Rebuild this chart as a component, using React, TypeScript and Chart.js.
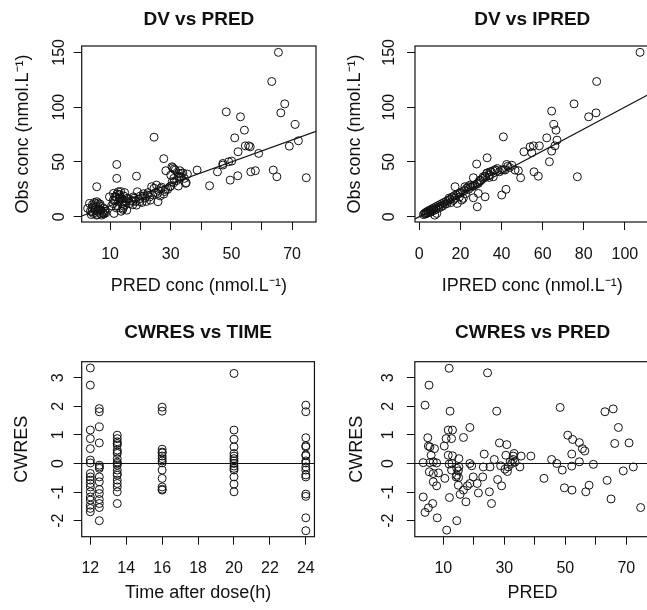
import React, { useEffect, useRef } from 'react';
import { Chart, registerables } from 'chart.js';

Chart.register(...registerables);

const FONT = '"Liberation Sans", Arial, Helvetica, sans-serif';
const INK = '#111111';

// ---------- Panel 1: DV vs PRED ----------
const dvPredPRED = [
  65.5, 63.3, 67.6, 66.3, 71, 48.3, 53, 54.3, 51.1, 24.5, 72.1, 69.1, 54.6, 55.7, 56.2, 52.2, 59, 50.1, 47.2, 45.4,
  56.4, 57.9, 63.8, 65, 74.7, 52.1, 49.6, 42.8, 38.7, 27.7, 28.4, 30.7, 31.5, 33, 33.5, 35.5, 35.1, 32.7, 31, 29.7,
  28.3, 27.7, 26.7, 25.7, 25.8, 25.3, 23.7, 22.3, 23.3, 20.9, 19.8, 19, 18.7, 17.7, 18.7, 17.4, 16, 14.4, 14.2, 14.6,
  12.2, 12.2, 11.1, 11.6, 12.7, 13.3, 13.3, 12.95, 10.5, 11.1, 11.3, 9.8, 5.6, 3.2, 4.5, 5.6, 6.7, 7.8, 4, 5.6,
  2.6, 8.4, 6.7, 47.2, 49.1, 30.4, 31.1, 32.6, 33.3, 34.9,
  3.5, 4, 4.2, 4.5, 5, 5.2, 5.5, 5.8, 6, 6.3, 6.5, 6.8, 7, 7.2, 7.5, 7.8, 8, 8.3, 3.8, 4.8, 6.1, 8.6,
  11, 11.5, 12, 12.3, 12.5, 12.8, 13, 13.2, 13.5, 13.8, 14, 14.2, 14.5, 14.8, 15, 15.3, 15.5, 15.8, 13.6, 12.1,
  16.5, 17, 17.5, 18, 18.5, 19.5, 20, 20.5, 21, 21.5, 22, 22.5, 23, 24, 24.5, 25, 26, 26.5, 27, 28, 29, 30, 30.5,
  31, 32, 33, 34, 34.5, 30, 32.5,
];
const dvPredDV = [
  150, 123.4, 103, 94.8, 84.2, 95.7, 91.2, 79, 72, 72.6, 69.3, 64.4, 64.7, 64.7, 63.8, 59.3, 57.8, 50.8, 48.6, 41,
  41, 42, 42.6, 36.5, 35.6, 37.4, 33.4, 28.3, 42.6, 53, 42, 44.7, 42.6, 42, 39.5, 38.9, 31, 37, 31, 27.4,
  24.9, 20.7, 25.8, 21.3, 13.7, 28.9, 27.4, 19.8, 15.2, 18.8, 13.7, 22.8, 37, 18.2, 10.6, 14, 15.8, 13.7, 6.7, 9.7,
  47.7, 35, 21.3, 18.2, 22.8, 18.2, 15.2, 20.4, 10, 15.2, 3, 18.2, 27.4, 12.2, 9.1, 13.7, 6.1, 3, 4.6, 1.5,
  7.6, 6.7, 11.6, 47.2, 50.2, 45.6, 43.5, 39.6, 36.5, 30.5,
  5, 8, 11, 3, 6, 12, 9, 2, 5, 7, 10, 3, 6, 1.5, 4, 8, 2.5, 5, 2, 13, 12.5, 3.5,
  12, 15, 18, 21, 10, 14, 17, 20, 23, 12, 16, 8, 19, 22, 11, 14, 6, 17, 5, 8,
  12, 15, 11, 17, 14, 16, 19, 13, 21, 17, 14, 22, 18, 20, 26, 22, 24, 19, 27, 23, 25, 28, 32,
  35, 33, 36, 40, 35, 38, 28,
];

// ---------- Panel 2: DV vs IPRED ----------
const dvIpredIPRED = [
  107.4, 86.3, 75.3, 86, 82.4, 64.4, 65.4, 66.5, 62, 67, 66, 64.4, 58.4, 53.9, 55.5, 54.7, 50.9, 63.3, 76.9, 55.8,
  57.9, 49.3, 46.6, 48.2, 40.9, 33, 42.5, 40.1, 41.7, 42.2, 40.1, 32, 28.2, 28.7, 27.9, 26.3, 26.3, 36.8, 34.4, 32.8,
  31.1, 29.5, 28.7, 36, 34, 22.2, 24.7, 17.4, 19.8, 20.6, 26.3, 18.5, 21.4, 23.8,
  2, 2.5, 3, 3.2, 3.5, 4, 4.2, 4.5, 5, 5.2, 5.5, 6, 6.2, 6.5, 7, 7.3, 7.5, 8, 8.2, 8.5, 9, 9.5, 10, 10.5, 11, 11.5,
  12, 12.5, 13, 13.5, 14, 14.5, 15, 15.5, 16, 16.5, 17, 17.5, 18, 19, 19.5, 20, 21, 22, 22.5, 23, 24, 25, 26, 27,
  28, 29, 30, 31, 32, 33, 34, 35, 36, 37, 38, 39, 41, 43, 44, 45,
];
const dvIpredDV = [
  150, 123.4, 103, 94.8, 91.2, 96.4, 84.2, 79, 72, 69.9, 64.7, 59.9, 64.7, 63.8, 64.7, 58.4, 59.3, 50.2, 36.5, 41,
  37, 35.6, 42.6, 42, 72.9, 53.8, 47.7, 42.6, 42.6, 25, 19.8, 18.2, 9.1, 21.3, 48.1, 28, 17.3, 42.6, 41, 39.5,
  36.5, 33.4, 30.4, 36.5, 35.9, 27.4, 28.9, 27.4, 21.3, 15.2, 35.6, 12.2, 16.8, 27.4,
  2, 3, 2.5, 4, 3, 5, 3.5, 4.5, 6, 4, 5.5, 7, 5, 6.5, 8, 6, 1.5, 9, 7, 3, 10, 8, 11, 9, 12, 10,
  13, 11.5, 14, 12, 15, 17, 16, 13, 18, 15, 19, 17, 20, 21, 18, 22, 23, 24, 21, 26, 25, 27, 28, 29,
  30, 32, 33, 35, 37, 40, 38, 41, 42, 43, 44, 41, 43, 46, 45, 47,
];

// ---------- Panel 3: CWRES vs TIME ----------
const timeGroups = [12, 12.5, 13.5, 16, 20, 24];
const cwresAt12 = [3.34, 2.74, 1.17, 0.87, 0.52, 0.12, 0.02, -0.35, -0.47, -0.58, -0.7, -0.82, -0.99, -1.17, -1.28, -1.46, -1.57, -1.69];
const cwresAt12h30 = [1.92, 1.81, 1.28, 0.72, -0.06, -0.12, -0.17, -0.47, -0.64, -0.91, -1.05, -1.26, -1.4, -1.54, -2.0];
const cwresAt13h30 = [0.99, 0.87, 0.76, 0.7, 0.64, 0.47, 0.4, 0.35, 0.17, 0.05, 0, -0.06, -0.23, -0.35, -0.41, -0.58, -0.7, -0.82, -0.99, -1.4];
const cwresAt16 = [1.97, 1.83, 0.5, 0.4, 0.37, 0.26, 0.17, 0.09, 0.02, -0.23, -0.52, -0.82, -0.9, -0.93];
const cwresAt20 = [3.15, 1.17, 0.85, 0.58, 0.35, 0.26, 0.17, 0.09, 0, -0.09, -0.17, -0.23, -0.47, -0.72, -0.99];
const cwresAt24 = [2.04, 1.81, 0.9, 0.62, 0.58, 0.3, 0.27, 0.09, 0.02, -0.12, -0.23, -0.4, -0.47, -1.07, -1.15, -1.9, -2.35];
const cwresByTime = [cwresAt12, cwresAt12h30, cwresAt13h30, cwresAt16, cwresAt20, cwresAt24];

// ---------- Panel 4: CWRES vs PRED ----------
const cwresPredPRED = [
  11.9, 24.5, 5.3, 4, 12.2, 27.5, 48.3, 63, 65.7, 67.4, 18.7, 11.6, 13, 4.9, 10.9, 12.7, 16.6, 50.8, 52.4, 54.6,
  5.1, 5.6, 10.3, 7.1, 28.4, 30.8, 66.2, 70.9, 55.6, 56.4, 6, 11.6, 13, 15.1, 23.4, 30.5, 33.2, 32.9, 35.5, 38.7,
  45.5, 52.1, 3.4, 5.6, 6.7, 7.8, 11.9, 12.8, 18.7, 19.3, 23.1, 25.3, 28.8, 31.9, 32.4, 31.3, 32.9, 35.1, 47.2, 49,
  52.1, 54.6, 59.2, 69, 72.3, 5.4, 6.7, 8.4, 12.7, 14.4, 15.1, 14.9, 14.2, 15, 14.4, 10.5, 6.7, 7.8, 14.9, 17.9,
  18.7, 19.8, 21.5, 22.9, 25.1, 27.8, 29.1, 16.6, 15.5, 12, 3.4, 4, 5.1, 6.5, 17.4, 25.8, 8, 14.4, 11.1, 43,
  49.7, 52.2, 56.7, 57.8, 63.7, 65, 74.7, 30.2, 31, 33.5, 21.1, 26.7,
];
const cwresPredCWRES = [
  3.33, 3.17, 2.74, 2.04, 1.83, 1.83, 1.96, 1.81, 1.91, 1.26, 1.26, 1.17, 1.17, 0.9, 0.87, 0.87, 0.91, 0.99, 0.84, 0.73,
  0.61, 0.58, 0.61, 0.52, 0.72, 0.66, 0.7, 0.72, 0.52, 0.44, 0.29, 0.29, 0.27, 0.17, 0.33, 0.29, 0.35, 0.26, 0.26, 0.26,
  0.14, 0.33, 0.03, 0.03, 0.06, 0.02, -0.02, 0, 0, -0.08, -0.12, -0.12, -0.08, 0.06, 0, -0.12, 0.14, -0.12, 0, -0.23,
  -0.09, 0.06, -0.03, -0.26, -0.12, -0.29, -0.35, -0.33, -0.23, -0.17, -0.12, -0.26, -0.47, -0.49, -0.41, -0.52, -0.64, -0.78, -0.76, -0.78,
  -0.7, -0.47, -1.03, -0.47, -0.99, -0.56, -0.78, -0.93, -1.08, -1.19, -1.17, -1.71, -1.55, -1.4, -1.34, -1.4, -1.9, -2.0, -2.33, -0.52,
  -0.85, -0.93, -0.99, -0.76, -0.59, -1.24, -1.54, -0.2, -0.28, 0.05, -0.7, 0.14,
];

// ---------- Axes ----------
const predTicks = [10, 20, 30, 40, 50, 60, 70];
const predLabels = [10, 30, 50, 70];
const ipredTicks = [0, 20, 40, 60, 80, 100];
const concTicks = [0, 50, 100, 150];
const timeTicks = [12, 14, 16, 18, 20, 22, 24];
const cwresTicks = [-2, -1, 0, 1, 2, 3];

type Pt = { x: number; y: number };
const zip = (xs: number[], ys: number[]): Pt[] => xs.map((x, i) => ({ x, y: ys[i] }));

type PanelSpec = {
  title: string;
  xTitle: string;
  yTitle: string;
  points: Pt[];
  refKind: 'identity' | 'zero';
  xMin: number; xMax: number; yMin: number; yMax: number;
  xTicks: number[]; xLabels: number[]; yTicks: number[];
  pad: { left: number; right: number; top: number; bottom: number };
  yAxisWidth: number; xAxisHeight: number;
  titlePad: { top: number; bottom: number };
  yTickPad: number; xTickPad: number;
};

const framePlugin = {
  id: 'frame',
  afterDatasetsDraw(chart: any) {
    const { ctx, chartArea: a } = chart;
    ctx.save();
    ctx.strokeStyle = INK;
    ctx.lineWidth = 1.2;
    ctx.strokeRect(a.left, a.top, a.right - a.left, a.bottom - a.top);
    ctx.restore();
  },
};

function buildConfig(p: PanelSpec): any {
  const ref: Pt[] = p.refKind === 'identity'
    ? [{ x: p.xMin, y: p.xMin }, { x: p.xMax, y: p.xMax }]
    : [{ x: p.xMin, y: 0 }, { x: p.xMax, y: 0 }];
  const tickFont = { family: FONT, size: 16 };
  const titleFont = { family: FONT, size: 18, lineHeight: 1.2 };
  return {
    type: 'scatter',
    data: {
      datasets: [
        {
          type: 'scatter',
          data: p.points,
          pointStyle: 'circle',
          pointRadius: 4,
          pointHoverRadius: 4,
          pointBorderWidth: 1,
          pointBorderColor: INK,
          pointBackgroundColor: 'rgba(0,0,0,0)',
        },
        {
          type: 'line',
          data: ref,
          borderColor: INK,
          borderWidth: 1.2,
          pointRadius: 0,
          fill: false,
          tension: 0,
        },
      ],
    },
    options: {
      animation: false,
      responsive: false,
      events: [],
      layout: { padding: p.pad },
      plugins: {
        legend: { display: false },
        tooltip: { enabled: false },
        title: {
          display: true,
          text: p.title,
          fullSize: false,
          color: INK,
          font: { family: FONT, size: 19, weight: 'bold', lineHeight: 1.2 },
          padding: p.titlePad,
        },
      },
      scales: {
        x: {
          type: 'linear',
          position: 'bottom',
          min: p.xMin,
          max: p.xMax,
          afterBuildTicks: (s: any) => { s.ticks = p.xTicks.map((v) => ({ value: v })); },
          afterFit: (s: any) => { s.height = p.xAxisHeight; },
          grid: { drawOnChartArea: false, drawTicks: true, tickLength: 8, color: INK, lineWidth: 1 },
          border: { display: false },
          ticks: {
            autoSkip: false,
            minRotation: 0,
            maxRotation: 0,
            padding: p.xTickPad,
            color: INK,
            font: tickFont,
            callback: (v: any) => (p.xLabels.includes(Number(v)) ? String(v) : ''),
          },
          title: { display: true, text: p.xTitle, color: INK, font: titleFont, padding: 0 },
        },
        y: {
          type: 'linear',
          position: 'left',
          min: p.yMin,
          max: p.yMax,
          afterBuildTicks: (s: any) => { s.ticks = p.yTicks.map((v) => ({ value: v })); },
          afterFit: (s: any) => { s.width = p.yAxisWidth; },
          grid: { drawOnChartArea: false, drawTicks: true, tickLength: 8, color: INK, lineWidth: 1 },
          border: { display: false },
          ticks: {
            autoSkip: false,
            minRotation: 90,
            maxRotation: 90,
            crossAlign: 'center',
            padding: p.yTickPad,
            color: INK,
            font: tickFont,
            callback: (v: any) => String(v),
          },
          title: { display: true, text: p.yTitle, color: INK, font: titleFont, padding: 0 },
        },
      },
    },
    plugins: [framePlugin],
  };
}

function Panel({ left, top, width, height, spec }: { left: number; top: number; width: number; height: number; spec: PanelSpec }) {
  const ref = useRef<HTMLCanvasElement>(null);
  useEffect(() => {
    const chart = new Chart(ref.current as HTMLCanvasElement, buildConfig(spec));
    return () => chart.destroy();
  }, []);
  return (
    <canvas
      ref={ref}
      width={width}
      height={height}
      style={{ position: 'absolute', left, top, width, height, display: 'block' }}
    />
  );
}

const concUnit = '(nmol.L\u207B\u00B9)';

const panel1: PanelSpec = {
  title: 'DV vs PRED',
  xTitle: 'PRED conc ' + concUnit,
  yTitle: 'Obs conc ' + concUnit,
  points: zip(dvPredPRED, dvPredDV),
  refKind: 'identity',
  xMin: 0.64, xMax: 77.9, yMin: -4.8, yMax: 155.8,
  xTicks: predTicks, xLabels: predLabels, yTicks: concTicks,
  pad: { left: 12.2, right: 14, top: 0, bottom: 3.2 },
  yAxisWidth: 69.5, xAxisHeight: 74.8,
  titlePad: { top: 8.6, bottom: 14.6 },
  yTickPad: 0.7, xTickPad: 15.4,
};

const panel2: PanelSpec = {
  title: 'DV vs IPRED',
  xTitle: 'IPRED conc ' + concUnit,
  yTitle: 'Obs conc ' + concUnit,
  points: zip(dvIpredIPRED, dvIpredDV),
  refKind: 'identity',
  xMin: -2.1, xMax: 112, yMin: -4.8, yMax: 155.8,
  xTicks: ipredTicks, xLabels: ipredTicks, yTicks: concTicks,
  pad: { left: 14.7, right: 10.5, top: 0, bottom: 3.2 },
  yAxisWidth: 70.3, xAxisHeight: 74.8,
  titlePad: { top: 8.6, bottom: 14.6 },
  yTickPad: 4, xTickPad: 15.4,
};

const timePoints: Pt[] = [];
timeGroups.forEach((t, gi) => cwresByTime[gi].forEach((c) => timePoints.push({ x: t, y: c })));

const panel3: PanelSpec = {
  title: 'CWRES vs TIME',
  xTitle: 'Time after dose(h)',
  yTitle: 'CWRES',
  points: timePoints,
  refKind: 'zero',
  xMin: 11.52, xMax: 24.48, yMin: -2.56, yMax: 3.56,
  xTicks: timeTicks, xLabels: timeTicks, yTicks: cwresTicks,
  pad: { left: 10.9, right: 14, top: 0, bottom: 6.2 },
  yAxisWidth: 70.8, xAxisHeight: 67.1,
  titlePad: { top: 21.3, bottom: 17.6 },
  yTickPad: 8.1, xTickPad: 14.7,
};

const panel4: PanelSpec = {
  title: 'CWRES vs PRED',
  xTitle: 'PRED',
  yTitle: 'CWRES',
  points: zip(cwresPredPRED, cwresPredCWRES),
  refKind: 'zero',
  xMin: 0.64, xMax: 77.9, yMin: -2.56, yMax: 3.56,
  xTicks: predTicks, xLabels: predLabels, yTicks: cwresTicks,
  pad: { left: 15.9, right: 9.6, top: 0, bottom: 6.2 },
  yAxisWidth: 68.9, xAxisHeight: 67.1,
  titlePad: { top: 21.3, bottom: 17.6 },
  yTickPad: 10.7, xTickPad: 14.7,
};

export default function App() {
  return (
    <div
      style={{
        position: 'absolute',
        left: 0,
        top: 0,
        width: 647,
        height: 610,
        overflow: 'hidden',
        background: '#ffffff',
      }}
    >
      <Panel left={0} top={0} width={330} height={300} spec={panel1} />
      <Panel left={330} top={0} width={330} height={300} spec={panel2} />
      <Panel left={0} top={300} width={330} height={310} spec={panel3} />
      <Panel left={330} top={300} width={330} height={310} spec={panel4} />
    </div>
  );
}
